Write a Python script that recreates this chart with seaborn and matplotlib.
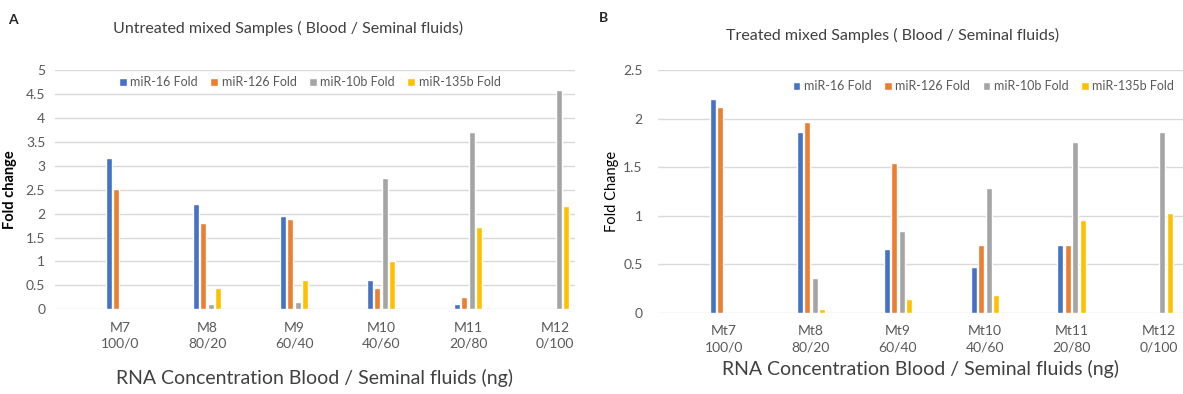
import numpy as np
import pandas as pd
import matplotlib
matplotlib.use("Agg")
import matplotlib.pyplot as plt
import seaborn as sns

series = ["miR-16 Fold", "miR-126 Fold", "miR-10b Fold", "miR-135b Fold"]
colors = ["#4472C4", "#ED7D31", "#A5A5A5", "#FFC000"]

untreated_labels = ["M7\n100/0", "M8\n80/20", "M9\n60/40", "M10\n40/60", "M11\n20/80", "M12\n0/100"]
untreated_mir16 = [3.17, 2.19, 1.94, 0.61, 0.12, 0]
untreated_mir126 = [2.51, 1.81, 1.88, 0.45, 0.25, 0]
untreated_mir10b = [0, 0.11, 0.16, 2.74, 3.71, 4.59]
untreated_mir135b = [0, 0.45, 0.61, 1.00, 1.71, 2.15]

treated_labels = ["Mt7\n100/0", "Mt8\n80/20", "Mt9\n60/40", "Mt10\n40/60", "Mt11\n20/80", "Mt12\n0/100"]
treated_mir16 = [2.20, 1.86, 0.66, 0.47, 0.70, 0]
treated_mir126 = [2.12, 1.96, 1.54, 0.70, 0.70, 0]
treated_mir10b = [0, 0.36, 0.84, 1.28, 1.76, 1.86]
treated_mir135b = [0, 0.035, 0.14, 0.18, 0.96, 1.03]


def long_df(labels, cols):
    rows = []
    for name, vals in zip(series, cols):
        for lab, v in zip(labels, vals):
            rows.append({"sample": lab, "series": name, "fold": v})
    return pd.DataFrame(rows)


df_u = long_df(untreated_labels, [untreated_mir16, untreated_mir126, untreated_mir10b, untreated_mir135b])
df_t = long_df(treated_labels, [treated_mir16, treated_mir126, treated_mir10b, treated_mir135b])

sns.set_theme(style="white")
plt.rcParams["font.family"] = ["Lato", "DejaVu Sans"]

fig = plt.figure(figsize=(11.83, 3.94), dpi=100)
W, H = 1183, 394
ax1 = fig.add_axes([55 / W, 1 - 309.3 / H, (575 - 55) / W, (309.3 - 70) / H])
ax2 = fig.add_axes([658 / W, 1 - 312.7 / H, (1183 - 658) / W, (312.7 - 70) / H])

tick_col = "#595959"
grid_col = "#D9D9D9"


def draw(ax, df, ymax, ystep, xlim, legend_anchor, ylabel, ylabel_bold, ypad):
    sns.barplot(data=df, x="sample", y="fold", hue="series", palette=colors,
                width=0.345, gap=0.2, ax=ax, errorbar=None, saturation=1)
    ax.set_ylim(0, ymax)
    ax.set_xlim(*xlim)
    ticks = np.arange(0, ymax + 1e-9, ystep)
    ax.set_yticks(ticks)
    ax.set_yticklabels([f"{t:g}" for t in ticks])
    ax.yaxis.grid(True, color=grid_col, linewidth=1)
    ax.set_axisbelow(True)
    for s in ax.spines.values():
        s.set_visible(False)
    ax.tick_params(axis="both", length=0, colors=tick_col, labelsize=10)
    ax.tick_params(axis="x", pad=9)
    ax.tick_params(axis="y", pad=ypad)
    for lab in ax.get_xticklabels():
        lab.set_linespacing(1.4)
    ax.set_xlabel("RNA Concentration Blood / Seminal fluids (ng)", fontsize=14, color="#404040")
    ax.set_ylabel(ylabel, fontsize=10.5, color="black",
                  fontweight="bold" if ylabel_bold else "normal")
    handles, labels = ax.get_legend_handles_labels()
    ax.legend(handles, labels, loc="center", bbox_to_anchor=legend_anchor, ncol=4,
              frameon=False, fontsize=9, handlelength=0.6, handleheight=0.6,
              handletextpad=0.3, columnspacing=1.0, labelcolor=tick_col)


draw(ax1, df_u, 5, 0.5, (-0.75, 5.23), (0.49, 0.95), "Fold change", True, 7)
draw(ax2, df_t, 2.5, 0.5, (-0.76, 5.28), (0.62, 0.934), "Fold Change", False, 11)

ax1.xaxis.labelpad = 14
ax2.xaxis.labelpad = 5
ax1.yaxis.labelpad = 6
ax2.yaxis.labelpad = 3

fig.text(288 / W, 1 - 28 / H, "Untreated mixed Samples ( Blood / Seminal fluids)",
         ha="center", va="center", fontsize=11.5, color="#404040")
fig.text(893 / W, 1 - 35 / H, "Treated mixed Samples ( Blood / Seminal fluids)",
         ha="center", va="center", fontsize=11.5, color="#404040")
fig.text(13 / W, 1 - 20 / H, "A", ha="center", va="center", fontsize=10, fontweight="bold")
fig.text(603 / W, 1 - 18 / H, "B", ha="center", va="center", fontsize=10, fontweight="bold")

fig.savefig("out.png", dpi=100, facecolor="white")
